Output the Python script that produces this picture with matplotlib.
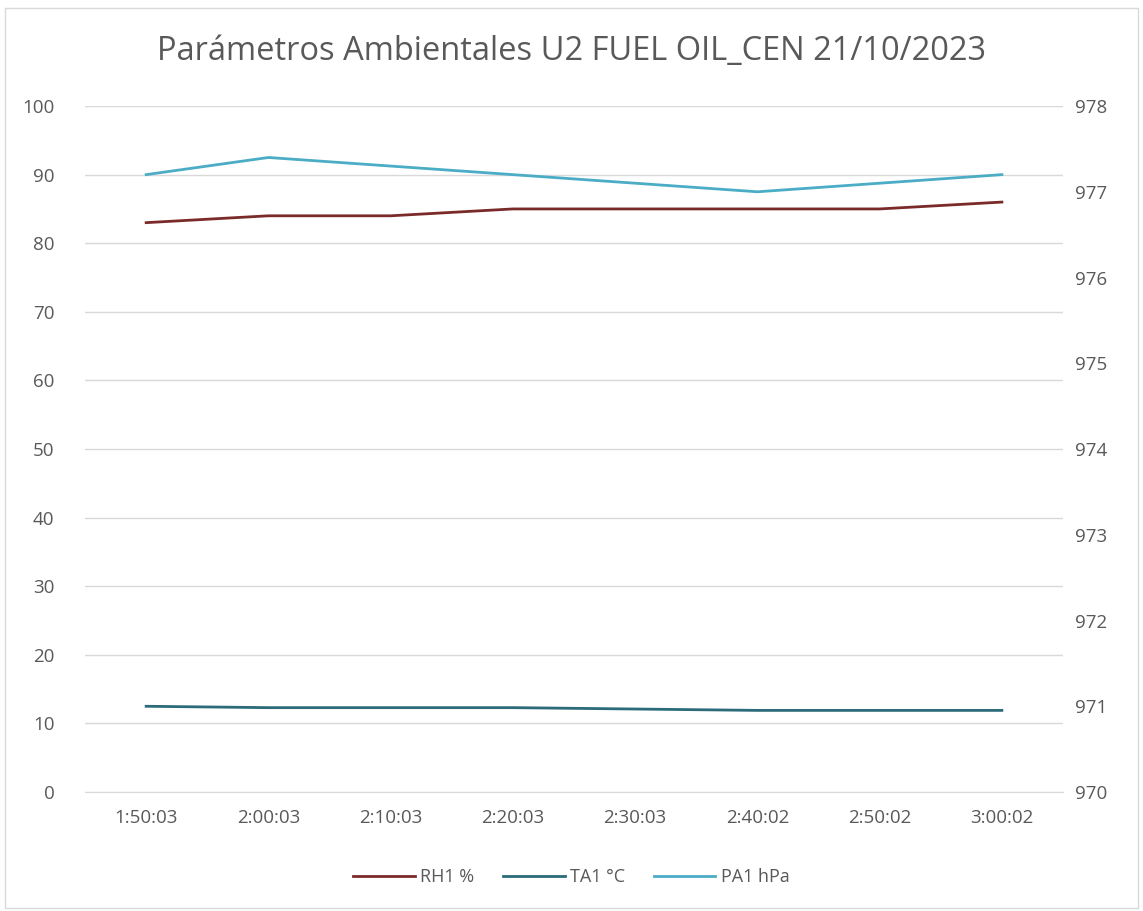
import matplotlib
matplotlib.use("Agg")
import matplotlib.pyplot as plt
from matplotlib.patches import Rectangle

plt.rcParams["font.family"] = ["Open Sans", "DejaVu Sans"]

times = ["1:50:03", "2:00:03", "2:10:03", "2:20:03", "2:30:03", "2:40:02", "2:50:02", "3:00:02"]
rh1 = [83, 84, 84, 85, 85, 85, 85, 86]
ta1 = [12.5, 12.3, 12.3, 12.3, 12.1, 11.9, 11.9, 11.9]
pa1 = [977.2, 977.4, 977.3, 977.2, 977.1, 977.0, 977.1, 977.2]

text_color = "#595959"
grid_color = "#d9d9d9"

fig = plt.figure(figsize=(11.43, 9.11), dpi=100)
fig.patches.append(Rectangle((0.004, 0.003), 0.992, 0.988, transform=fig.transFigure,
                             fill=False, edgecolor="#d9d9d9", linewidth=1))

ax = fig.add_axes([0.0744, 0.1306, 0.8556, 0.753])
ax2 = ax.twinx()

x = list(range(len(times)))
l1, = ax.plot(x, rh1, color="#7b2a2a", linewidth=2, label="RH1 %")
l2, = ax.plot(x, ta1, color="#2c6b7a", linewidth=2, label="TA1 °C")
l3, = ax2.plot(x, pa1, color="#4bacc6", linewidth=2, label="PA1 hPa")

ax.set_xlim(-0.5, len(times) - 0.5)
ax.set_ylim(0, 100)
ax.set_yticks(range(0, 101, 10))
ax2.set_ylim(970, 978)
ax2.set_yticks(range(970, 979, 1))
ax.set_xticks(x)
ax.set_xticklabels(times)

ax.grid(axis="y", color=grid_color, linewidth=1)
ax.set_axisbelow(True)
for a in (ax, ax2):
    for s in a.spines.values():
        s.set_visible(False)
    a.tick_params(length=0, labelsize=13.5, colors=text_color)
ax.spines["bottom"].set_visible(True)
ax.spines["bottom"].set_color(grid_color)
ax.tick_params(axis="y", pad=22)
ax2.tick_params(axis="y", pad=9)
ax.tick_params(axis="x", pad=12)

fig.text(0.5, 0.944, "Parámetros Ambientales U2 FUEL OIL_CEN 21/10/2023",
         ha="center", va="center", fontsize=23.5, color=text_color)

fig.legend(handles=[l1, l2, l3], loc="center", bbox_to_anchor=(0.5, 0.037), ncol=3,
           frameon=False, fontsize=13, labelcolor=text_color, handlelength=3.4,
           handletextpad=0.3, columnspacing=1.6)

fig.savefig("out.png", dpi=100)
